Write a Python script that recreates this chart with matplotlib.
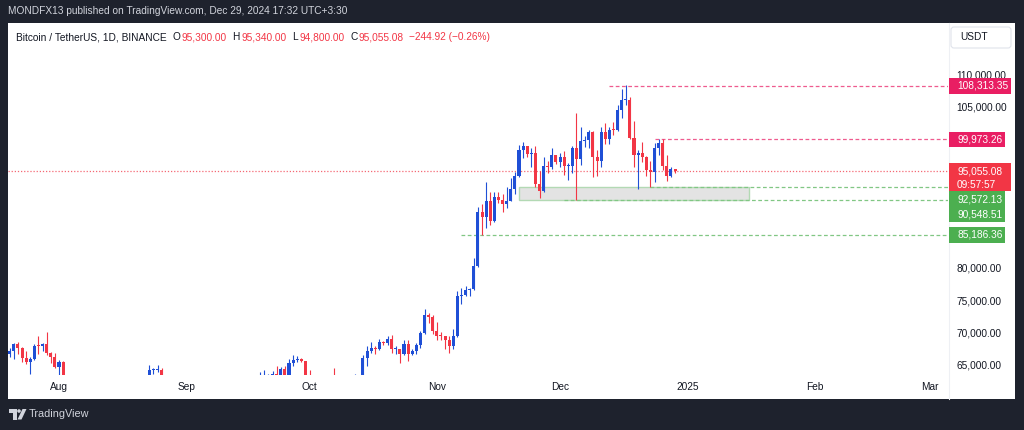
import numpy as np
import pandas as pd
import matplotlib
matplotlib.use("Agg")
import matplotlib.pyplot as plt
import matplotlib.dates as mdates
from matplotlib.patches import Rectangle, Circle, Polygon, FancyBboxPatch
from matplotlib.lines import Line2D
from matplotlib.transforms import IdentityTransform
from matplotlib.ticker import FuncFormatter

plt.rcParams['font.family'] = ['Liberation Sans', 'DejaVu Sans']

# ---------------- data: BTC/USDT daily candles, 2024-07-20 .. 2024-12-29 ----------------
dates = pd.date_range("2024-07-20", "2024-12-29", freq="D")

opens = [
    # Jul 20-31
    66660, 67140, 68165, 67532, 65936, 65376, 65799, 67907, 67896, 68249, 66784, 66188,
    # Aug
    64628, 65354, 61499, 60697, 58161, 54018, 56022, 55134, 61685, 60837, 60923, 58713, 59346, 60587, 58683, 57541,
    58874, 59491, 58427, 59438, 59013, 61157, 60381, 64094, 64178, 64220, 62834, 59415, 59034, 59359, 59123,
    # Sep
    58974, 57301, 59132, 57487, 57970, 56180, 53962, 54160, 54869, 57042, 57635, 57339, 58127, 60571, 60005,
    59182, 58192, 60309, 61759, 62947, 63201, 63348, 63578, 63339, 64262, 63152, 65173, 65769, 65858, 65603,
    # Oct
    63327, 60805, 60649, 60752, 62086, 62058, 62819, 62224, 62160, 60636, 60326, 62540, 63206, 62870, 66083, 67074,
    67620, 67421, 68428, 68378, 69032, 67378, 67426, 66668, 68198, 66698, 67047, 67976, 69908, 72720, 72339,
    # Nov
    70216, 69482, 69358, 68775, 67850, 69372, 75571, 75857, 76509, 76677, 80370, 88648, 87953, 90375, 87325,
    91033, 90587, 89855, 90465, 92310, 94287, 98318, 98892, 97673, 97900, 93010, 91966, 95864, 95644, 97461,
    # Dec
    96407, 97185, 95840, 95850, 98587, 96945, 99740, 99831, 101109, 97276, 96593, 101126, 100004, 101424, 101420,
    104463, 106058, 106134, 100204, 97461, 97805, 97292, 95186, 94877, 98663, 99430, 95792, 94299, 95300,
]
highs = [
    67598, 68366, 68474, 67750, 67102, 66175, 68200, 69399, 68318, 70079, 66998, 66849,
    65659, 65596, 62198, 61117, 58305, 57040, 57736, 62745, 61744, 61470, 61858, 60680, 61578, 61800, 59849, 59817,
    59700, 60284, 59617, 61400, 61820, 61400, 64955, 64522, 65000, 64481, 63212, 60234, 61166, 59944, 59462,
    59070, 59425, 59809, 58520, 58327, 57008, 54850, 55318, 58100, 58044, 57981, 58588, 60670, 60656, 60381,
    59210, 61320, 61786, 63850, 64133, 63559, 64000, 64745, 64688, 64817, 65839, 66498, 66260, 66076, 65604,
    64130, 62370, 61470, 62484, 62370, 62975, 64478, 63200, 62543, 61321, 63417, 63480, 63285, 66500, 67950, 68425,
    67939, 68969, 68694, 69400, 69520, 67836, 67472, 68850, 68772, 67454, 68388, 70270, 73620, 72961, 72700,
    71632, 70000, 69400, 69500, 70577, 76400, 76850, 77199, 76900, 81500, 89530, 89940, 93265, 91790, 91850,
    91779, 91449, 92594, 93905, 94831, 99073, 99588, 98979, 98564, 98871, 94973, 97208, 96650, 98694, 97463,
    97836, 98130, 96305, 99000, 104088, 101898, 100439, 101351, 101215, 98270, 101888, 102540, 101895, 102650, 105250,
    107793, 108353, 106524, 102800, 98233, 99540, 97448, 96538, 99416, 99960, 99963, 97544, 95674, 95340,
]
lows = [
    66222, 65777, 66559, 65441, 65111, 63456, 65722, 66705, 67066, 66428, 65302, 64530,
    62302, 61100, 59850, 57122, 49000, 53950, 54558, 54730, 59565, 60242, 58286, 57688, 58392, 58433, 56078, 57098,
    58785, 58408, 57787, 58610, 58783, 59724, 60345, 63560, 63784, 62800, 58034, 57860, 58713, 57700, 58744,
    57201, 57128, 57415, 55606, 55643, 52550, 53745, 53629, 54596, 56386, 55545, 57324, 57639, 59639, 58696,
    57493, 57610, 59174, 61555, 62350, 62759, 62357, 62538, 62700, 62947, 62670, 64819, 65422, 65432, 62856,
    60164, 59996, 59828, 60459, 61689, 61798, 62128, 61860, 60300, 58946, 60087, 62487, 62050, 62457, 64800, 66750,
    66666, 67177, 68010, 68100, 66840, 66571, 65260, 66454, 65521, 66439, 66600, 67618, 69760, 71436, 69685,
    68820, 68788, 67478, 66835, 67458, 69298, 74416, 75560, 75714, 76492, 80216, 85072, 86127, 86668, 87073,
    90056, 88722, 89376, 90357, 91500, 94111, 97122, 97208, 95734, 92600, 90791, 91792, 94677, 95367, 96150,
    95693, 94395, 93578, 94660, 90500, 95981, 98844, 98657, 94150, 94256, 95658, 99311, 99205, 100609, 101237,
    103333, 105321, 100000, 95700, 92232, 96398, 94250, 92520, 93376, 97600, 95200, 93500, 94181, 94800,
]
closes = [
    67140, 68165, 67532, 65936, 65376, 65799, 67907, 67896, 68249, 66784, 66188, 64628,
    65354, 61499, 60697, 58161, 54018, 56022, 55134, 61685, 60837, 60923, 58713, 59346, 60587, 58683, 57541, 58874,
    59491, 58427, 59438, 59013, 61157, 60381, 64094, 64178, 64220, 62834, 59415, 59034, 59359, 59123, 58974,
    57301, 59132, 57487, 57970, 56180, 53962, 54160, 54869, 57042, 57635, 57339, 58127, 60571, 60005, 59182,
    58192, 60309, 61759, 62947, 63201, 63348, 63578, 63339, 64262, 63152, 65173, 65769, 65858, 65603, 63327,
    60805, 60649, 60752, 62086, 62058, 62819, 62224, 62160, 60636, 60326, 62540, 63206, 62870, 66083, 67074, 67620,
    67421, 68428, 68378, 69032, 67378, 67426, 66668, 68198, 66698, 67047, 67976, 69908, 72720, 72339, 70216,
    69482, 69358, 68775, 67850, 69372, 75571, 75857, 76509, 76677, 80370, 88647, 87953, 90375, 87325, 91032,
    90587, 89855, 90464, 92310, 94286, 98318, 98892, 97673, 97900, 93010, 91966, 95863, 95644, 97461, 96407,
    97185, 95840, 95849, 98587, 96945, 99740, 99831, 101109, 97276, 96593, 101125, 100004, 101424, 101420, 104464,
    106058, 106133, 100204, 97461, 97805, 97291, 95186, 94877, 98663, 99430, 95792, 94299, 95300, 95055.08,
]

month_ticks = ["2024-08-01", "2024-09-01", "2024-10-01", "2024-11-01",
               "2024-12-01", "2025-01-01", "2025-02-01", "2025-03-01"]
month_labels = ["Aug", "Sep", "Oct", "Nov", "Dec", "2025", "Feb", "Mar"]
# scale labels left visible (the others sit under the price tags)
price_ticks = [65000, 70000, 75000, 80000, 105000, 110000]

# horizontal rays drawn by the author
level_prices = [108313.35, 99973.26, 92572.13, 90548.51, 85186.36]
level_starts = ["2024-12-13", "2024-12-24", "2024-12-23", "2024-12-02", "2024-11-07"]
zone_low, zone_high = 90548.51, 92572.13
zone_start, zone_end = "2024-11-21", "2025-01-16"
countdown = "09:57:57"

header = "MONDFX13 published on TradingView.com, Dec 29, 2024 17:32 UTC+3:30"
symbol = "Bitcoin / TetherUS, 1D, BINANCE"

# ---------------- style ----------------
DARK = '#1e222d'
TXT = '#131722'
BLUE = '#1f4fd6'
RED = '#f23645'
PINK = '#e91e63'
PINK_LINE = '#ef5b8f'
GREEN = '#4caf50'
GREEN_LINE = '#81c784'
FS = 7.3

W, H = 1024, 430
fig = plt.figure(figsize=(W / 100, H / 100), dpi=100, facecolor=DARK)
px = IdentityTransform()
renderer = fig.canvas.get_renderer()


def Y(y):
    # pixel row from the top -> display coordinate
    return H - y


# white chart panel
fig.add_artist(Rectangle((8, Y(399)), 1007, 376, transform=px, fc='white', ec='none', zorder=-1))
fig.add_artist(Line2D([948.5, 948.5], [Y(23), Y(399)], transform=px, color='#eef0f4', lw=0.8, zorder=-0.5))

ax = fig.add_axes([8 / W, 1 - 375 / H, 940 / W, 352 / H])
ax.set_facecolor('white')
for s in ax.spines.values():
    s.set_visible(False)

x = mdates.date2num(dates)
d0 = mdates.date2num(pd.Timestamp("2024-08-01"))
ax.set_xlim(d0 - 12.42, d0 + 216.46)
ax.set_ylim(63370, 118028)
xright = ax.get_xlim()[1]

# candles
o, hi, lo, c = map(np.asarray, (opens, highs, lows, closes))
col = np.where(c >= o, BLUE, RED)
ax.vlines(x, lo, hi, colors=col, lw=0.8, zorder=3)
ax.bar(x, np.maximum(np.abs(c - o), 150), bottom=np.minimum(o, c), width=0.74,
       color=col, lw=0, zorder=4)

# support zone
zs, ze = mdates.date2num(pd.to_datetime([zone_start, zone_end]))
ax.add_patch(Rectangle((zs, zone_low), ze - zs, zone_high - zone_low,
                       fc='#e3e3e3', ec='#b3d9b4', lw=1, zorder=2))

# level lines
level_line_colors = [PINK_LINE, PINK_LINE, GREEN_LINE, GREEN_LINE, GREEN_LINE]
for p, st, lc in zip(level_prices, level_starts, level_line_colors):
    ax.hlines(p, mdates.date2num(pd.Timestamp(st)), xright, colors=lc,
              linestyles=(0, (3, 2)), lw=0.9, zorder=2.5)

# last price line
last_price = closes[-1]
ax.axhline(last_price, color=RED, lw=0.9, ls=(0, (1, 1.5)), alpha=0.75, zorder=2.5)

# axes ticks
ax.set_xticks(mdates.date2num(pd.to_datetime(month_ticks)))
ax.set_xticklabels(month_labels)
ax.tick_params(axis='x', length=0, pad=5, labelsize=FS, labelcolor=TXT)
ax.yaxis.tick_right()
ax.set_yticks(price_ticks)
ax.yaxis.set_major_formatter(FuncFormatter(lambda v, pos: f"{v:,.2f}"))
ax.tick_params(axis='y', length=0, pad=6, labelsize=FS, labelcolor=TXT)


def price_px(p):
    return H - ax.transData.transform((d0, p))[1]


# price-scale tags, stacked so they do not overlap (like TradingView)
labels = [
    (level_prices[0], PINK, [f"{level_prices[0]:,.2f}"], 62),
    (level_prices[1], PINK, [f"{level_prices[1]:,.2f}"], 56),
    (last_price, RED, [f"{last_price:,.2f}", countdown], 62),
    (level_prices[2], GREEN, [f"{level_prices[2]:,.2f}"], 56),
    (level_prices[3], GREEN, [f"{level_prices[3]:,.2f}"], 56),
    (level_prices[4], GREEN, [f"{level_prices[4]:,.2f}"], 56),
]
prev_bottom = 0
for p, bc, lines, w in labels:
    yc = price_px(p)
    hgt = 15.5 if len(lines) == 1 else 28
    top = max(yc - 7.5, prev_bottom)
    prev_bottom = top + hgt
    fig.add_artist(Rectangle((949, Y(top + hgt)), w, hgt, transform=px, fc=bc, ec='none', zorder=5))
    for i, s in enumerate(lines):
        fig.text(957, Y(top + 7.7 + i * 14), s, transform=px, color='white', fontsize=FS,
                 va='center', ha='left', zorder=6)

# header on dark frame
fig.text(8, Y(11), header, transform=px, color='#d1d4dc', fontsize=FS, va='center')


# legend line, laid out piece by piece
def put(xp, s, color):
    t = fig.text(xp, Y(37), s, transform=px, color=color, fontsize=FS, va='center')
    return t.get_window_extent(renderer).x1


chg = closes[-1] - opens[-1]
pct = chg / opens[-1] * 100
xe = put(15.7, symbol, TXT)
for k, v in [("O", opens[-1]), ("H", highs[-1]), ("L", lows[-1]), ("C", closes[-1])]:
    xe = put(xe + 6, k, TXT)
    xe = put(xe + 1.2, f"{v:,.2f}", RED)
put(xe + 5, f"\u2212{abs(chg):,.2f} (\u2212{abs(pct):.2f}%)", RED)

# currency button
fig.add_artist(FancyBboxPatch((951, Y(48)), 60, 21, boxstyle='round,pad=0,rounding_size=3',
                              transform=px, fc='white', ec='#e0e3eb', lw=0.8, zorder=5))
fig.text(960, Y(37.5), "USDT", transform=px, color=TXT, fontsize=FS, va='center', zorder=6)

# TradingView logo at bottom
LOGO = '#d1d4dc'
fig.add_artist(Rectangle((8.5, Y(412.5)), 8, 3.5, transform=px, fc=LOGO, ec='none'))
fig.add_artist(Rectangle((12.5, Y(419.5)), 4, 7, transform=px, fc=LOGO, ec='none'))
fig.add_artist(Circle((19, Y(411)), 1.8, transform=px, fc=LOGO, ec='none'))
fig.add_artist(Polygon([(22.5, Y(409)), (26.5, Y(409)), (21.5, Y(419.5)), (17.5, Y(419.5))],
                       transform=px, fc=LOGO, ec='none'))
fig.text(29, Y(414), "TradingView", transform=px, color=LOGO, fontsize=7.8, va='center')

fig.savefig("out.png", dpi=100, facecolor=DARK)
